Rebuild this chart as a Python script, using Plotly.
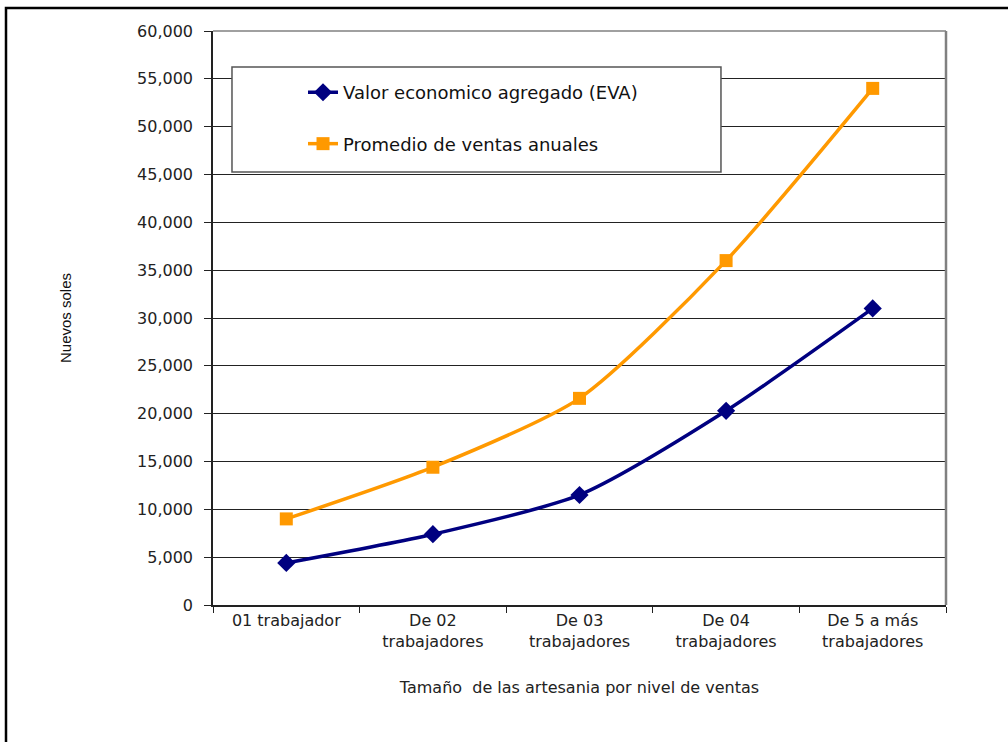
import plotly.graph_objects as go

# Tamaño de la empresa artesanal (número de trabajadores)
categorias = [
    "01 trabajador",
    "De 02<br>trabajadores",
    "De 03<br>trabajadores",
    "De 04<br>trabajadores",
    "De 5 a más<br>trabajadores",
]
eva = [4400, 7400, 11500, 20300, 31000]
ventas = [9000, 14400, 21600, 36000, 54000]

FONT = "DejaVu Sans, Verdana, sans-serif"
FONT_NARROW = "Liberation Sans, Arial, sans-serif"
NAVY = "#000080"
ORANGE = "#FF9900"

fig = go.Figure()
fig.add_trace(go.Scatter(
    x=categorias, y=eva, name="Valor economico agregado (EVA)",
    mode="lines+markers", legendgroup="eva",
    line=dict(color=NAVY, width=3.5, shape="spline", smoothing=0.7),
    marker=dict(symbol="diamond", size=14, color=NAVY),
))
fig.add_trace(go.Scatter(
    x=categorias, y=ventas, name="Promedio de ventas anuales",
    mode="lines+markers", legendgroup="ventas",
    line=dict(color=ORANGE, width=3.5, shape="spline", smoothing=0.7),
    marker=dict(symbol="square", size=13, color=ORANGE),
))

# Marco de la figura, borde del área de trazado y caja de la leyenda
fig.add_shape(type="rect", xref="paper", yref="paper",
              x0=-0.2824, x1=1.09, y0=-0.26, y1=1.0401,
              line=dict(color="black", width=2.5), fillcolor="rgba(0,0,0,0)", layer="above")
fig.add_shape(type="line", xref="paper", yref="paper", x0=1, x1=1, y0=0, y1=1,
              line=dict(color="#808080", width=2.5), layer="above")
fig.add_shape(type="line", xref="paper", yref="paper", x0=0, x1=1, y0=1, y1=1,
              line=dict(color="#808080", width=1.5), layer="above")
fig.add_shape(type="rect", xref="paper", yref="paper",
              x0=0.0259, x1=0.693, y0=0.7544, y1=0.9373,
              line=dict(color="#555555", width=1.5), fillcolor="white", layer="above")

fig.update_layout(
    width=1008, height=742,
    margin=dict(l=213, r=62, t=31, b=137),
    paper_bgcolor="white", plot_bgcolor="white",
    font=dict(family=FONT, color="#222222", size=16),
    showlegend=True,
    legend=dict(
        x=0.1228, y=0.925, xanchor="left", yanchor="top",
        bgcolor="rgba(0,0,0,0)", borderwidth=0,
        font=dict(family=FONT, size=18, color="#111111"),
        tracegroupgap=25,
    ),
    xaxis=dict(
        type="category", range=[-0.5, 4.5], tickson="boundaries",
        ticks="outside", ticklen=6,
        tickcolor="#222222", showline=True, linecolor="#222222", linewidth=1.5,
        showgrid=False, tickfont=dict(size=16),
        title=dict(text="Tamaño  de las artesania por nivel de ventas",
                   font=dict(size=16), standoff=32),
    ),
    yaxis=dict(
        range=[0, 60000], dtick=5000, tickformat=",", ticks="outside", ticklen=7,
        tickcolor="#222222", showline=True, linecolor="#222222", linewidth=1.5,
        showgrid=True, gridcolor="#222222", gridwidth=1, zeroline=False,
        tickfont=dict(size=16), ticklabelstandoff=8,
        title=dict(text="Nuevos soles", font=dict(family=FONT_NARROW, size=15, color="#111111"),
                   standoff=62),
    ),
)

fig.write_html("out.html")
